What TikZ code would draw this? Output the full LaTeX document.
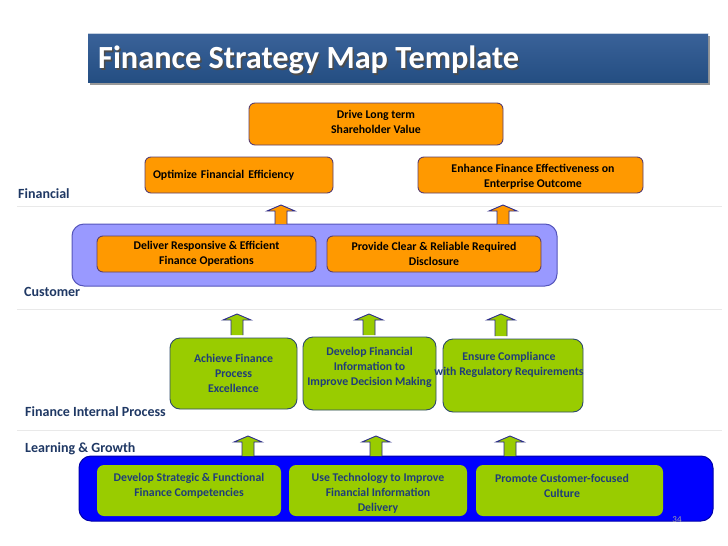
\documentclass[tikz,border=0pt]{standalone}
\usepackage{fontspec}
\setmainfont{Carlito}
\usetikzlibrary{calc}
\definecolor{navy}{HTML}{1F3864}
\definecolor{orng}{HTML}{FF9900}
\definecolor{orngline}{HTML}{5B3F6E}
\definecolor{grn}{HTML}{99CC00}
\definecolor{grnline}{HTML}{2E4A6A}
\definecolor{grntext}{HTML}{1F3D7A}
\definecolor{purp}{HTML}{9999FF}
\definecolor{purpline}{HTML}{5555BB}
\definecolor{bblue}{HTML}{0000FF}
\definecolor{bblueline}{HTML}{0000AA}
\definecolor{titletop}{HTML}{3A6299}
\definecolor{titlebot}{HTML}{244E82}
\definecolor{arrline}{HTML}{2B2B8C}
\definecolor{sep}{HTML}{E9E9E9}
\tikzset{
  x=1pt, y=-1pt,
  boxfont/.style={font=\bfseries\fontsize{11.8}{15}\selectfont},
  obox/.style={boxfont, draw=orngline, line width=0.9pt, fill=orng, rounded corners=6pt, align=center, text=black, inner sep=0pt},
  gbox/.style={boxfont, draw=grnline, line width=0.9pt, fill=grn, rounded corners=10pt, align=center, text=grntext, inner sep=0pt},
  gbox2/.style={boxfont, draw=none, fill=grn, rounded corners=7pt, align=center, text=grntext, inner sep=0pt},
  gtext/.style={boxfont, text=grntext, align=center, inner sep=0pt},
  pbox/.style={draw=purpline, line width=1pt, fill=purp, rounded corners=12pt, inner sep=0pt},
  bbox/.style={draw=bblueline, line width=1pt, fill=bblue, rounded corners=12pt, inner sep=0pt},
  lane/.style={font=\bfseries\fontsize{14}{16}\selectfont, text=navy, anchor=west, inner sep=0pt},
  seprule/.style={draw=sep, line width=0.8pt},
  uparr/.style={draw=arrline, line width=0.9pt, line join=miter},
}
\newcommand{\blockarr}[4]{% x, ytop, ybottom, fill
  \filldraw[uparr, fill=#4] (#1-6,#3) -- (#1-6,#2+6) -- (#1-14,#2+6) -- (#1,#2) -- (#1+14,#2+6) -- (#1+6,#2+6) -- (#1+6,#3);
}
\begin{document}
\begin{tikzpicture}
\useasboundingbox (0,0) rectangle (728,546);
\fill[white] (0,0) rectangle (728,546);

% title bar
\fill[black!40] (90,36) rectangle (710,85);
\shade[top color=titletop, bottom color=titlebot] (88,33) rectangle (708,82);
\draw[white!70!titletop, line width=0.8pt] (88,33.5) -- (708,33.5);
\node[font=\bfseries\fontsize{32.3}{36}\selectfont, text=black!70, anchor=west, inner sep=0pt] at (99.5,61.5) {Finance Strategy Map Template};
\node[font=\bfseries\fontsize{32.3}{36}\selectfont, text=white, anchor=west, inner sep=0pt] (title) at (98,60) {Finance Strategy Map Template};

% separators
\draw[seprule] (17,206) -- (722,206);
\draw[seprule] (17,309) -- (722,309);
\draw[seprule] (17,430) -- (722,430);

% lane labels
\node[lane] (lfin) at (18,194) {Financial};
\node[lane] (lcus) at (24,292) {Customer};
\node[lane] (lfip) at (25,412) {Finance Internal Process};
\node[lane] (llg) at (25,449) {Learning \& Growth};

% financial
\node[obox, minimum width=254, minimum height=42] (dlt) at (376,124) {};
\node[boxfont, align=center, inner sep=0pt] at (376,122) {Drive Long term\\Shareholder Value};
\node[obox, minimum width=188, minimum height=36, text width=172, align=left] (ofe) at (239,175) {Optimize Financial Efficiency};
\node[obox, minimum width=225, minimum height=36] (efe) at (530.5,175) {};
\node[boxfont, align=center, inner sep=0pt] at (533,177) {Enhance Finance Effectiveness on\\Enterprise Outcome};

% customer
\node[pbox, minimum width=485, minimum height=62] (cust) at (314.5,255) {};
\node[obox, minimum width=219, minimum height=36] (dro) at (206.5,254) {Deliver Responsive \& Efficient\\Finance Operations};
\node[obox, minimum width=214, minimum height=36] (pcr) at (434,254) {Provide Clear \& Reliable Required\\Disclosure};

% arrows customer -> financial
\blockarr{281}{205}{224}{orng}
\blockarr{503}{205}{224}{orng}

% internal process
\node[gbox, minimum width=127, minimum height=71] (afe) at (233.5,373.5) {Achieve Finance\\Process\\Excellence};
\node[gbox, minimum width=133, minimum height=73] (dfi) at (369.5,373.5) {};
\node[gtext] at (369.5,367) {Develop Financial\\Information to\\Improve Decision Making};
\node[gbox, minimum width=140, minimum height=73] (ecr) at (513,375.5) {};
\node[gtext] (ecrt) at (509,365) {Ensure Compliance\\with Regulatory Requirements};

\blockarr{237}{314}{335}{grn}
\blockarr{369}{314}{335}{grn}
\blockarr{501}{314}{336}{grn}

% learning & growth
\node[bbox, minimum width=634, minimum height=65] (lg) at (396,488.5) {};
\node[gbox2, minimum width=184, minimum height=51] (dsf) at (189,490.5) {};
\node[gtext] at (189,485.5) {Develop Strategic \& Functional\\Finance Competencies};
\node[gbox2, minimum width=178, minimum height=51] (ut) at (378,490.5) {};
\node[gtext] at (378,493) {Use Technology to Improve\\Financial Information\\Delivery};
\node[gbox2, minimum width=187, minimum height=51] (pcf) at (569.5,490.5) {};
\node[gtext] at (562,485.5) {Promote Customer-focused\\Culture};

\blockarr{248}{436}{456}{grn}
\blockarr{376}{436}{456}{grn}
\blockarr{510}{436}{456}{grn}

\node[font=\fontsize{9}{10}\selectfont, text=black!35, inner sep=0pt] (pg) at (677,520) {34};
\end{tikzpicture}
\end{document}
